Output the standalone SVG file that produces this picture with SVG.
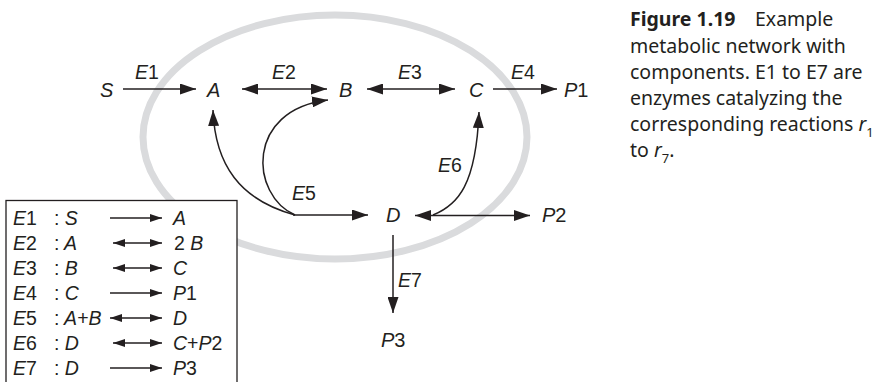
<svg xmlns="http://www.w3.org/2000/svg" width="877" height="382" viewBox="0 0 877 382">
<style>
.n{font-family:"Liberation Sans",Arial,Helvetica,sans-serif;font-size:20px;font-style:italic;fill:#231f20}
.l{font-family:"Liberation Sans",Arial,Helvetica,sans-serif;font-size:19.5px;font-style:italic;fill:#231f20}
.up{font-style:normal}
.e{fill:none;stroke:#231f20;stroke-width:1.5}
.le{fill:none;stroke:#231f20;stroke-width:1.3}
.cap{font-family:"Noto Sans","Open Sans",sans-serif;font-size:19.5px;fill:#231f20}
.b{font-weight:bold}
.it{font-style:italic}
</style>
<defs>
<marker id="ah" markerUnits="userSpaceOnUse" viewBox="0 0 16 11" markerWidth="16" markerHeight="11" refX="16" refY="5.5" orient="auto-start-reverse"><path d="M0,0 L16,5.5 L0,11 Z" fill="#231f20"/></marker>
<marker id="sh" markerUnits="userSpaceOnUse" viewBox="0 0 12 8" markerWidth="12" markerHeight="8" refX="12" refY="4" orient="auto-start-reverse"><path d="M0,0 L12,4 L0,8 Z" fill="#231f20"/></marker>
</defs>
<rect width="877" height="382" fill="#ffffff"/>
<ellipse id="compartment" cx="335" cy="137" rx="192" ry="122" fill="none" stroke="#dadbdd" stroke-width="7"/>

<g id="connectors">
<line class="e" x1="123" y1="89" x2="196" y2="89" marker-end="url(#ah)"/>
<line class="e" x1="242" y1="89" x2="327" y2="89" marker-start="url(#ah)" marker-end="url(#ah)"/>
<line class="e" x1="367" y1="89" x2="455" y2="89" marker-start="url(#ah)" marker-end="url(#ah)"/>
<line class="e" x1="493" y1="89" x2="557" y2="89" marker-end="url(#ah)"/>
<path class="e" d="M295,215 C240,200 215,165 213,110" marker-end="url(#ah)"/>
<path class="e" d="M295,215 C250,195 245,110 328,100" marker-end="url(#ah)"/>
<line class="e" x1="293" y1="215" x2="368" y2="215" marker-end="url(#ah)"/>
<line class="e" x1="415" y1="215.5" x2="530" y2="215.5" marker-start="url(#ah)" marker-end="url(#ah)"/>
<path class="e" d="M433,215 C458,205 476,185 479,112" marker-end="url(#ah)"/>
<line class="e" x1="393" y1="235" x2="393" y2="313" marker-end="url(#ah)"/>
<text class="l" x="135" y="79">E<tspan class="up">1</tspan></text>
<text class="l" x="272" y="79">E<tspan class="up">2</tspan></text>
<text class="l" x="398" y="79">E<tspan class="up">3</tspan></text>
<text class="l" x="511" y="79">E<tspan class="up">4</tspan></text>
<text class="l" x="292" y="200">E<tspan class="up">5</tspan></text>
<text class="l" x="438" y="172">E<tspan class="up">6</tspan></text>
<text class="l" x="398" y="287">E<tspan class="up">7</tspan></text>
</g>

<g id="node-S"><text class="n" x="100" y="96.5">S</text></g>
<g id="node-A"><text class="n" x="207" y="96.5">A</text></g>
<g id="node-B"><text class="n" x="339" y="96.5">B</text></g>
<g id="node-C"><text class="n" x="469" y="96.5">C</text></g>
<g id="node-P1"><text class="n" x="564" y="96.5">P<tspan class="up">1</tspan></text></g>
<g id="node-D"><text class="n" x="386" y="222">D</text></g>
<g id="node-P2"><text class="n" x="542" y="222">P<tspan class="up">2</tspan></text></g>
<g id="node-P3"><text class="n" x="381" y="347">P<tspan class="up">3</tspan></text></g>

<g id="legend">
<rect x="6" y="200.5" width="231" height="200" fill="#ffffff" stroke="#231f20" stroke-width="1.3"/>
<g class="l">
<text x="13" y="225">E<tspan class="up">1</tspan></text>
<text x="13" y="250">E<tspan class="up">2</tspan></text>
<text x="13" y="275">E<tspan class="up">3</tspan></text>
<text x="13" y="300">E<tspan class="up">4</tspan></text>
<text x="13" y="325">E<tspan class="up">5</tspan></text>
<text x="13" y="350">E<tspan class="up">6</tspan></text>
<text x="13" y="375">E<tspan class="up">7</tspan></text>
<text x="54" y="225"><tspan class="up">:</tspan> S</text>
<text x="54" y="250"><tspan class="up">:</tspan> A</text>
<text x="54" y="275"><tspan class="up">:</tspan> B</text>
<text x="54" y="300"><tspan class="up">:</tspan> C</text>
<text x="54" y="325"><tspan class="up">:</tspan> A<tspan class="up">+</tspan>B</text>
<text x="54" y="350"><tspan class="up">:</tspan> D</text>
<text x="54" y="375"><tspan class="up">:</tspan> D</text>
<text x="173" y="225">A</text>
<text x="174" y="250"><tspan class="up">2</tspan> B</text>
<text x="173" y="275">C</text>
<text x="173" y="300">P<tspan class="up">1</tspan></text>
<text x="173" y="325">D</text>
<text x="173" y="350">C<tspan class="up">+</tspan>P<tspan class="up">2</tspan></text>
<text x="173" y="375">P<tspan class="up">3</tspan></text>
</g>
<line class="le" x1="110" y1="218" x2="162" y2="218" marker-end="url(#sh)"/>
<line class="le" x1="113" y1="243" x2="162" y2="243" marker-start="url(#sh)" marker-end="url(#sh)"/>
<line class="le" x1="113" y1="268" x2="162" y2="268" marker-start="url(#sh)" marker-end="url(#sh)"/>
<line class="le" x1="110" y1="293" x2="162" y2="293" marker-end="url(#sh)"/>
<line class="le" x1="110" y1="318" x2="162" y2="318" marker-start="url(#sh)" marker-end="url(#sh)"/>
<line class="le" x1="113" y1="343" x2="162" y2="343" marker-start="url(#sh)" marker-end="url(#sh)"/>
<line class="le" x1="110" y1="368" x2="162" y2="368" marker-end="url(#sh)"/>
</g>

<g id="caption" class="cap">
<text x="630" y="26"><tspan class="b">Figure 1.19</tspan><tspan x="755">Example</tspan></text>
<text x="630" y="52.5">metabolic network with</text>
<text x="630" y="78.5">components. E1 to E7 are</text>
<text x="630" y="104.5">enzymes catalyzing the</text>
<text x="630" y="130.5">corresponding reactions <tspan class="it">r</tspan><tspan font-size="13" dy="6">1</tspan></text>
<text x="630" y="156.5">to <tspan class="it">r</tspan><tspan font-size="13" dy="6">7</tspan><tspan dy="-6">.</tspan></text>
</g>
</svg>
